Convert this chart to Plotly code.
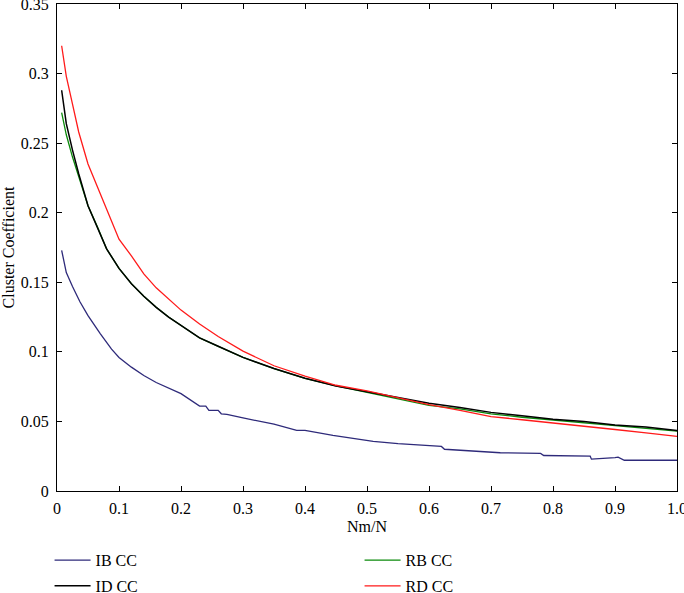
import plotly.graph_objects as go

# Shared x grid for the ID / RB / RD series
x_grid = [0.0075, 0.015, 0.025, 0.035, 0.05, 0.065, 0.08, 0.1, 0.12, 0.14, 0.16, 0.18,
          0.2, 0.23, 0.26, 0.3, 0.35, 0.4, 0.45, 0.5, 0.55, 0.6, 0.65, 0.7, 0.75, 0.8,
          0.85, 0.9, 0.95, 1.0]

id_cc = [0.288, 0.264, 0.245, 0.228, 0.205, 0.190, 0.174, 0.160, 0.149, 0.140, 0.132, 0.125,
         0.119, 0.110, 0.104, 0.096, 0.088, 0.081, 0.0755, 0.0715, 0.067, 0.063, 0.060, 0.0565,
         0.054, 0.0515, 0.050, 0.0475, 0.046, 0.0435]

rb_cc = [0.272, 0.256, 0.240, 0.226, 0.205, 0.190, 0.174, 0.160, 0.149, 0.140, 0.132, 0.125,
         0.119, 0.110, 0.104, 0.096, 0.088, 0.081, 0.0755, 0.0710, 0.0665, 0.0615, 0.059, 0.0555,
         0.053, 0.051, 0.049, 0.047, 0.0455, 0.043]

rd_cc = [0.320, 0.298, 0.278, 0.258, 0.235, 0.219, 0.202, 0.181, 0.169, 0.156, 0.146, 0.138,
         0.130, 0.120, 0.111, 0.1005, 0.090, 0.0825, 0.076, 0.072, 0.067, 0.062, 0.058, 0.0535,
         0.0512, 0.049, 0.0466, 0.0442, 0.0418, 0.0393]

# IB series (stepped look)
ib_x = [0.0075, 0.015, 0.025, 0.037, 0.05, 0.0586, 0.07, 0.088, 0.1, 0.12, 0.14, 0.16, 0.18,
        0.2, 0.23, 0.24, 0.245, 0.26, 0.265, 0.274, 0.3, 0.35, 0.3866, 0.4, 0.445, 0.51, 0.55,
        0.62, 0.625, 0.687, 0.715, 0.78, 0.785, 0.86, 0.862, 0.9, 0.905, 0.915, 1.0]
ib_cc = [0.173, 0.157, 0.147, 0.136, 0.126, 0.120, 0.113, 0.102, 0.096, 0.089, 0.083, 0.078, 0.074,
         0.070, 0.061, 0.061, 0.058, 0.058, 0.0555, 0.055, 0.0525, 0.048, 0.0436, 0.0435, 0.040,
         0.0357, 0.034, 0.032, 0.030, 0.0286, 0.0275, 0.0270, 0.0255, 0.0250, 0.0229, 0.0240,
         0.0243, 0.0221, 0.0221]

x_tickvals = [0, 0.1, 0.2, 0.3, 0.4, 0.5, 0.6, 0.7, 0.8, 0.9, 1.0]
x_ticktext = ["0", "0.1", "0.2", "0.3", "0.4", "0.5", "0.6", "0.7", "0.8", "0.9", "1.0"]
y_tickvals = [0, 0.05, 0.1, 0.15, 0.2, 0.25, 0.3, 0.35]
y_ticktext = ["0", "0.05", "0.1", "0.15", "0.2", "0.25", "0.3", "0.35"]

FONT = "'Liberation Serif', 'DejaVu Serif', serif"
FS = 16

fig = go.Figure()
fig.add_trace(go.Scatter(x=ib_x, y=ib_cc, mode="lines", name="IB CC",
                         line=dict(color="#2e2a7a", width=1.3), legend="legend"))
fig.add_trace(go.Scatter(x=x_grid, y=rb_cc, mode="lines", name="RB CC",
                         line=dict(color="#0a8a0a", width=1.3), legend="legend"))
fig.add_trace(go.Scatter(x=x_grid, y=id_cc, mode="lines", name="ID CC",
                         line=dict(color="#000000", width=1.5), legend="legend2"))
fig.add_trace(go.Scatter(x=x_grid, y=rd_cc, mode="lines", name="RD CC",
                         line=dict(color="#ff1a1a", width=1.3), legend="legend2"))

axis_common = dict(showline=True, linecolor="black", linewidth=1.2, mirror="ticks",
                   ticks="inside", ticklen=5, tickcolor="black", tickwidth=1.2,
                   showgrid=False, zeroline=False, automargin=False,
                   ticklabeloverflow="allow",
                   tickfont=dict(family=FONT, size=FS, color="black"))

fig.update_xaxes(range=[0, 1.0], tickvals=x_tickvals, ticktext=x_ticktext,
                 ticklabelstandoff=3,
                 title=dict(text="Nm/N", font=dict(family=FONT, size=FS, color="black"), standoff=4),
                 **axis_common)
fig.update_yaxes(range=[0, 0.35], tickvals=y_tickvals, ticktext=y_ticktext,
                 ticklabelstandoff=4,
                 title=dict(text="Cluster Coefficient", font=dict(family=FONT, size=FS, color="black"), standoff=6),
                 **axis_common)

legend_common = dict(orientation="h", xanchor="left", yanchor="middle",
                     entrywidth=259, entrywidthmode="pixels", itemwidth=36,
                     font=dict(family=FONT, size=FS, color="black"),
                     bgcolor="rgba(0,0,0,0)", traceorder="normal")

fig.update_layout(
    width=684, height=593,
    margin=dict(l=57, r=7, t=4, b=102, autoexpand=False),
    paper_bgcolor="white", plot_bgcolor="white",
    font=dict(family=FONT, size=FS, color="black"),
    showlegend=True,
    legend=dict(x=-0.012, y=-0.142, **legend_common),
    legend2=dict(x=-0.012, y=-0.195, **legend_common),
)

fig.write_html("out.html", post_script="document.body.style.margin='0';",
               config={"displayModeBar": False})
